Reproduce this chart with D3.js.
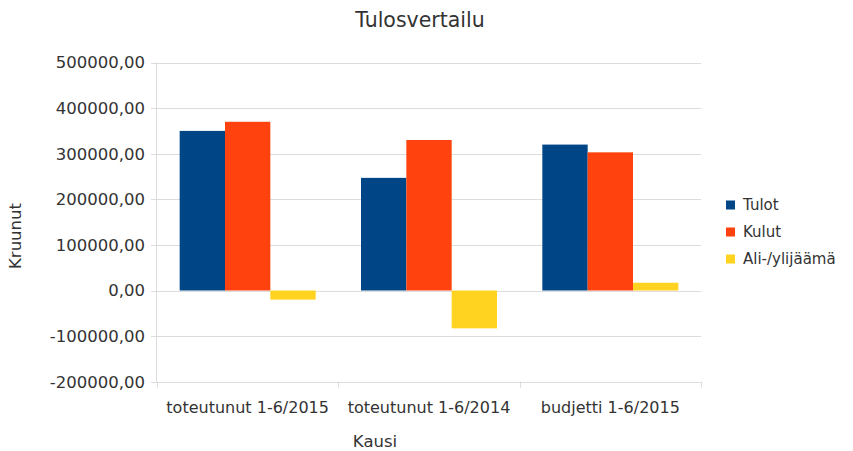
<!DOCTYPE html>
<html>
<head>
<meta charset="utf-8">
<script src="https://cdn.jsdelivr.net/npm/d3@7"></script>
<style>
  body { margin: 0; background: #fff; }
  text { font-family: "DejaVu Sans", sans-serif; fill: #333; }
</style>
</head>
<body>
<div id="chart"></div>
<script>
// data
const categories = ['toteutunut 1-6/2015', 'toteutunut 1-6/2014', 'budjetti 1-6/2015'];
const seriesNames = ['Tulot', 'Kulut', 'Ali-/ylijäämä'];
const tulot = [350000, 247000, 320000];
const kulut = [370000, 330000, 303000];
const alijaama = [-20000, -83000, 17000];
const yTicks = [-200000, -100000, 0, 100000, 200000, 300000, 400000, 500000];
const colors = ['#004586', '#ff420e', '#ffd320'];

const width = 853, height = 451;
const margin = { top: 62.5, left: 157, right: 152, bottom: 69.3 };

const svg = d3.select('#chart').append('svg')
  .attr('width', width)
  .attr('height', height);

const x = d3.scaleBand()
  .domain(categories)
  .range([margin.left, width - margin.right])
  .paddingInner(0.25)
  .paddingOuter(0.125);

const xs = d3.scaleBand()
  .domain(seriesNames)
  .range([0, x.bandwidth()]);

const y = d3.scaleLinear()
  .domain([-200000, 500000])
  .range([height - margin.bottom, margin.top]);

// libreoffice style: plain hyphen, comma decimals
const fmt = (v) => d3.format('.2f')(v).replace('\u2212', '-').replace('.', ',');

// gridlines
svg.append('g')
  .selectAll('line')
  .data(yTicks)
  .enter()
  .append('line')
  .attr('x1', margin.left - 6)
  .attr('x2', width - margin.right)
  .attr('y1', (d) => Math.round(y(d)) + 0.5)
  .attr('y2', (d) => Math.round(y(d)) + 0.5)
  .attr('stroke', '#dcdcdc');

// left axis line
svg.append('line')
  .attr('x1', margin.left - 0.5).attr('x2', margin.left - 0.5)
  .attr('y1', y(500000)).attr('y2', y(-200000))
  .attr('stroke', '#dcdcdc');

// category separators at the bottom
const bounds = [0, 1, 2, 3].map((i) => x.range()[0] + i * x.step());
svg.append('g')
  .selectAll('line')
  .data(bounds)
  .enter()
  .append('line')
  .attr('x1', (d) => Math.round(d) + 0.5)
  .attr('x2', (d) => Math.round(d) + 0.5)
  .attr('y1', y(-200000))
  .attr('y2', y(-200000) + 6)
  .attr('stroke', '#dcdcdc');

// y tick labels
svg.append('g')
  .selectAll('text')
  .data(yTicks)
  .enter()
  .append('text')
  .attr('x', 145)
  .attr('y', (d) => y(d))
  .attr('dy', '0.36em')
  .attr('text-anchor', 'end')
  .attr('font-size', '16.5px')
  .text((d) => fmt(d));

// bars
const rows = categories.map((c, i) => ({
  cat: c,
  vals: [tulot[i], kulut[i], alijaama[i]]
}));

const groups = svg.append('g')
  .selectAll('g')
  .data(rows)
  .enter()
  .append('g')
  .attr('transform', (d) => `translate(${x(d.cat)},0)`);

groups.selectAll('rect')
  .data((d) => d.vals.map((v, j) => ({ name: seriesNames[j], v: v, j: j })))
  .enter()
  .append('rect')
  .attr('x', (d) => xs(d.name))
  .attr('width', xs.bandwidth())
  .attr('y', (d) => y(Math.max(0, d.v)))
  .attr('height', (d) => Math.abs(y(d.v) - y(0)))
  .attr('fill', (d) => colors[d.j]);

// category labels
svg.append('g')
  .selectAll('text')
  .data(categories)
  .enter()
  .append('text')
  .attr('x', (d) => x(d) + x.bandwidth() / 2)
  .attr('y', 413)
  .attr('text-anchor', 'middle')
  .attr('font-size', '16px')
  .text((d) => d);

// title and axis titles
svg.append('text')
  .attr('x', 420).attr('y', 27)
  .attr('text-anchor', 'middle')
  .attr('font-size', '20.5px')
  .attr('fill', '#222')
  .text('Tulosvertailu');

svg.append('text')
  .attr('x', 375).attr('y', 447)
  .attr('text-anchor', 'middle')
  .attr('font-size', '16.5px')
  .text('Kausi');

svg.append('text')
  .attr('transform', 'translate(21,236) rotate(-90)')
  .attr('text-anchor', 'middle')
  .attr('font-size', '16.5px')
  .text('Kruunut');

// legend
const legend = svg.append('g')
  .selectAll('g')
  .data(seriesNames)
  .enter()
  .append('g')
  .attr('transform', (d, i) => `translate(726,${205 + i * 27})`);

legend.append('rect')
  .attr('x', 0).attr('y', -4.5)
  .attr('width', 9).attr('height', 9)
  .attr('fill', (d, i) => colors[i]);

legend.append('text')
  .attr('x', 17)
  .attr('dy', '0.36em')
  .attr('font-size', '15px')
  .text((d) => d);
</script>
</body>
</html>
